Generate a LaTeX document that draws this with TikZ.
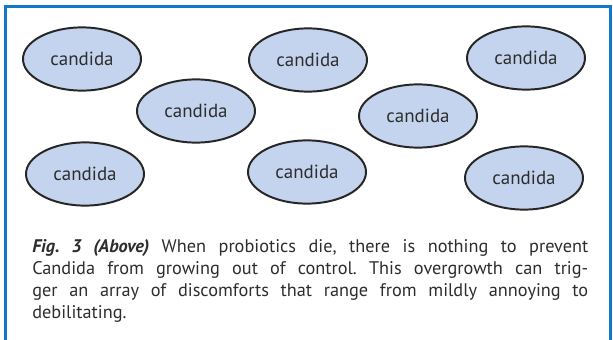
\documentclass[tikz,border=0pt]{standalone}
\usepackage{fontspec}
\setmainfont{PT Sans}
\usepackage{tikz}
\usetikzlibrary{positioning,shapes.geometric}

\definecolor{framebl}{RGB}{18,122,196}
\definecolor{cellfill}{RGB}{196,212,238}
\definecolor{inktext}{RGB}{45,45,45}

\begin{document}
\frenchspacing
\begin{tikzpicture}[
    cell/.style={draw=black!85, ellipse, fill=cellfill, line width=1.4pt,
                 minimum width=2.95cm, minimum height=1.58cm, inner sep=0pt,
                 text=inktext, font=\fontsize{13.5}{15}\selectfont}
  ]
    \useasboundingbox (0,0) rectangle (15.325,8.475);
    % frame, open at the bottom
    \draw[framebl, line width=2.2pt] (0.14,-0.2) -- (0.14,8.31) -- (15.26,8.31) -- (15.26,-0.2);

    \node[cell] (c1) at (2.05,7.00) {candida};
    \node[cell] (c2) at (4.90,5.70) {candida};
    \node[cell] (c3) at (2.125,4.125) {candida};
    \node[cell] (c4) at (7.70,6.975) {candida};
    \node[cell] (c5) at (7.675,4.175) {candida};
    \node[cell] (c6) at (10.45,5.575) {candida};
    \node[cell] (c7) at (13.15,7.025) {candida};
    \node[cell] (c8) at (13.10,4.025) {candida};

    \node[anchor=north west, inner sep=0pt, text width=13.9cm, align=justify,
          text=inktext, font=\fontsize{13}{15.6}\selectfont] (caption) at (0.80,2.50) {
      \textbf{\textit{Fig. 3 (Above)}} When probiotics die, there is nothing to prevent\linebreak
      Candida from growing out of control. This overgrowth can trig-\linebreak
      ger an array of discomforts that range from mildly annoying to\linebreak
      debilitating.
    };
\end{tikzpicture}
\end{document}
